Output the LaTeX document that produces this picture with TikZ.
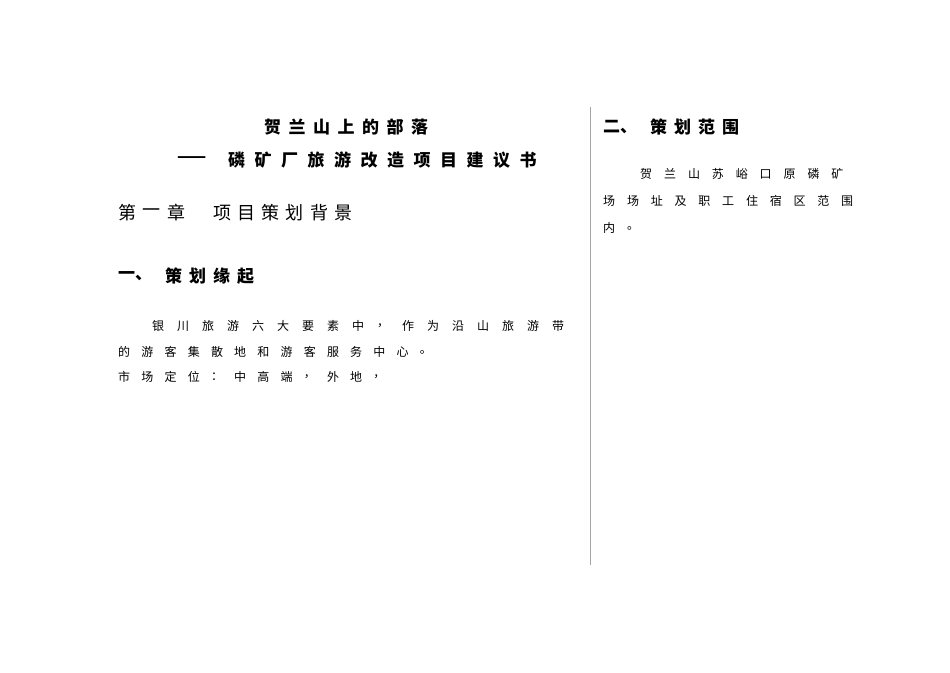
\documentclass[tikz,border=0pt]{standalone}
\usepackage{fontspec}
\newfontfamily\cjk{Noto Sans CJK SC}
\newcommand\spreadline[5][bodytxt]{%
  \foreach \c [count=\i] in {#5} {\node[#1] at ({#2+#4*(\i-1)},#3) {\c};}}
\begin{document}
\begin{tikzpicture}[x=1pt,y=-1pt,
  title/.style={font=\cjk\fontsize{17}{17}\selectfont\bfseries,inner sep=0pt,anchor=west},
  chap/.style={font=\cjk\fontsize{18}{18}\selectfont,inner sep=0pt,anchor=west},
  bodytxt/.style={font=\cjk\fontsize{12}{12}\selectfont,inner sep=0pt,anchor=west}]
\useasboundingbox (0,0) rectangle (950,672);
\spreadline[title]{264}{127}{24.5}{贺,兰,山,上,的,部,落}
\node[title] (t2) at (177,160) {——};
\spreadline[title]{228}{160}{26.5}{磷,矿,厂,旅,游,改,造,项,目,建,议,书}
\spreadline[chap]{118}{213}{24.5}{第,一,章}
\spreadline[chap]{213}{213}{24.2}{项,目,策,划,背,景}
\node[title] (s1) at (118,276) {一、};
\spreadline[title]{165}{276}{24}{策,划,缘,起}
\spreadline{152}{326}{25}{银,川,旅,游,六,大,要,素,中,，,作,为,沿,山,旅,游,带}
\spreadline{118}{352}{23.2}{的,游,客,集,散,地,和,游,客,服,务,中,心,。}
\spreadline{118}{377}{23.2}{市,场,定,位,：,中,高,端,，,外,地,，}
\draw[gray!70,line width=0.8pt] (590,107) -- (590,565);
\node[title] (s2) at (603,127) {二、};
\spreadline[title]{650}{127}{24}{策,划,范,围}
\spreadline{640}{174}{23.9}{贺,兰,山,苏,峪,口,原,磷,矿}
\spreadline{603}{201}{23.8}{场,场,址,及,职,工,住,宿,区,范,围}
\spreadline{603}{228}{23.8}{内,。}
\end{tikzpicture}
\end{document}
